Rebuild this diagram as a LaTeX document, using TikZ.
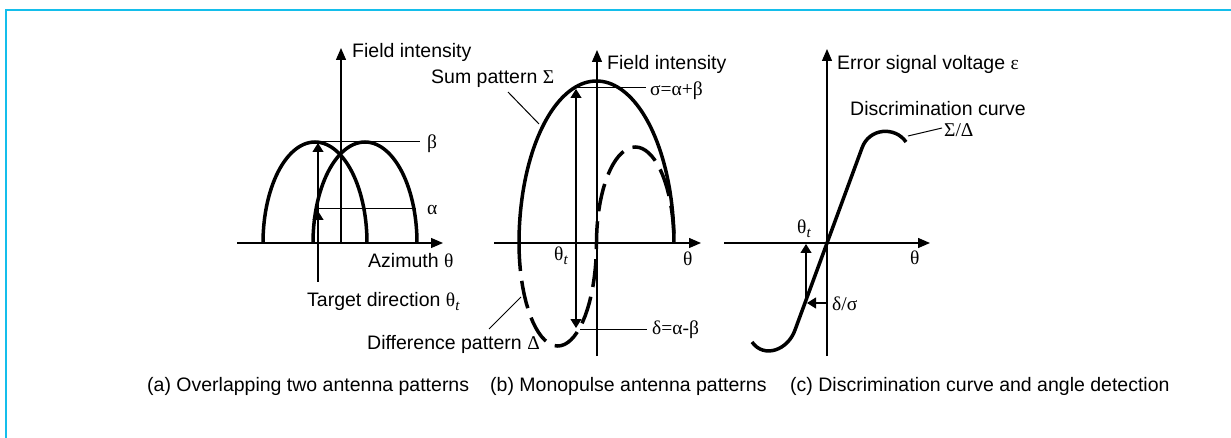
\documentclass[tikz,border=0pt]{standalone}
\usepackage{fontspec}
\setmainfont{Liberation Sans}
\newfontfamily\gk{Liberation Serif}
\usetikzlibrary{arrows.meta}
\definecolor{framecyan}{RGB}{20,190,235}
\newcommand\tsub[1]{\raisebox{-0.35ex}{\fontsize{15}{18}\selectfont\gk\itshape #1}}
\begin{document}
\begin{tikzpicture}[x=1pt,y=-1pt,
 lbl/.style={inner sep=0pt, anchor=west, font=\fontsize{19.5}{23}\selectfont},
 axisline/.style={line width=1.3pt, -{Triangle[length=12pt,width=10pt]}},
 thickcurve/.style={line width=3.5pt},
 dcurve/.style={line width=3.5pt, dash pattern=on 28pt off 10pt},
 leader/.style={line width=1pt},
 marrow/.style={line width=1.2pt, -{Triangle[length=9pt,width=11pt]}},
 cyanframe/.style={draw=framecyan, line width=1.6pt}]
\useasboundingbox (0,0) rectangle (1231,438);
\draw[cyanframe] (6,438) -- (6,10) -- (1231,10);

% ---------- panel (a)
\coordinate (aO) at (341,243);
\coordinate (aXl) at (237,243);
\coordinate (aXr) at (443,243);
\coordinate (aYt) at (341,48);
\draw[axisline] (aXl) -- (aXr);
\draw[axisline] (aO) -- (aYt);
\draw[thickcurve] plot[domain=180:0, samples=61] ({315+52*cos(\x)},{243-101*sin(\x)});
\draw[thickcurve] plot[domain=180:0, samples=61] ({365+52*cos(\x)},{243-101*sin(\x)});
\coordinate (aB1) at (316,142);
\coordinate (aB2) at (420,142);
\coordinate (aA1) at (318,209);
\coordinate (aA2) at (416,209);
\draw[leader] (aB1) -- (aB2);
\draw[leader] (aA1) -- (aA2);
\coordinate (aT) at (318,282);
\coordinate (aTb) at (318,143);
\coordinate (aTa) at (318,211);
\draw[marrow] (aT) -- (aTb);
\draw[marrow] (aT) -- (aTa);
\node[lbl] (aField) at (352,52.5) {Field intensity};
\node[lbl] (aBeta) at (427,143.5) {\gk β};
\node[lbl] (aAlpha) at (427,210) {\gk α};
\node[lbl] (aAz) at (368,260.5) {Azimuth {\gk θ}};
\node[lbl] (aTarget) at (307,301.5) {Target direction {\gk θ}\tsub{t}};
\node[lbl] (aCap) at (147,386.5) {(a) Overlapping two antenna patterns};

% ---------- panel (b)
\coordinate (bO) at (597,243);
\coordinate (bXl) at (494,243);
\coordinate (bXr) at (701,243);
\coordinate (bYt) at (597,50);
\coordinate (bYb) at (597,356);
\draw[axisline] (bXl) -- (bXr);
\draw[axisline] (bYb) -- (bYt);
\draw[thickcurve] plot[domain=180:0, samples=81] ({596.5+77.5*cos(\x)},{243-162*sin(\x)});
\draw[dcurve] plot[domain=0:360, samples=73]
  ({(\x<180) ? (557.75-38.75*cos(\x)) : (635.25+38.75*cos(\x))},
   {(\x<180) ? (243+103*sin(\x)) : (243+96*sin(\x))});
\coordinate (bS1) at (576,88);
\coordinate (bS2) at (646,88);
\coordinate (bD1) at (580,329);
\coordinate (bD2) at (647,329);
\draw[leader] (bS1) -- (bS2);
\draw[leader] (bD1) -- (bD2);
\coordinate (bT) at (576,243);
\coordinate (bTu) at (576,89);
\coordinate (bTd) at (576,328);
\draw[marrow] (bT) -- (bTu);
\draw[marrow] (bT) -- (bTd);
\node[lbl] (bField) at (607,64.5) {Field intensity};
\node[lbl] (bSigma) at (650,91) {\gk σ=α+β};
\node[lbl] (bDelta) at (652,330) {\gk δ=α-β};
\node[lbl] (bThetat) at (554,256) {{\gk θ}\tsub{t}};
\node[lbl] (bTheta) at (683,259) {\gk θ};
\node[lbl] (bSum) at (431,79) {Sum pattern {\gk Σ}};
\node[lbl] (bDiff) at (367,344.5) {Difference pattern {\gk Δ}};
\coordinate (bL1a) at (508,92);
\coordinate (bL1b) at (539,124);
\coordinate (bL2a) at (489,329);
\coordinate (bL2b) at (521,297);
\draw[leader] (bL1a) -- (bL1b);
\draw[leader] (bL2a) -- (bL2b);
\node[lbl] (bCap) at (490,386.5) {(b) Monopulse antenna patterns};

% ---------- panel (c)
\coordinate (cO) at (827,243);
\coordinate (cXl) at (724,243);
\coordinate (cXr) at (930,243);
\coordinate (cYt) at (827,49);
\coordinate (cYb) at (827,356);
\draw[axisline] (cXl) -- (cXr);
\draw[axisline] (cYb) -- (cYt);
\coordinate (cE1) at (752,342);
\coordinate (cK1) at (795,330);
\coordinate (cK2) at (862,148);
\coordinate (cE2) at (906,142);
\draw[thickcurve] (cE1) .. controls (764,359) and (788,350) .. (cK1) -- (cK2)
   .. controls (869,128) and (895,126) .. (cE2);
\coordinate (cD) at (827,303);
\coordinate (cP) at (807,303);
\coordinate (cPs) at (806,303);
\coordinate (cPt) at (806,244);
\draw[marrow] (cD) -- (cP);
\draw[marrow] (cPs) -- (cPt);
\node[lbl] (cErr) at (837,64.5) {Error signal voltage {\gk ε}};
\node[lbl] (cDisc) at (850,108.5) {Discrimination curve};
\node[lbl] (cSD) at (944,130) {\gk Σ/Δ};
\coordinate (cL1) at (908,136);
\coordinate (cL2) at (942,128);
\draw[leader] (cL1) -- (cL2);
\node[lbl] (cThetat) at (797,229) {{\gk θ}\tsub{t}};
\node[lbl] (cTheta) at (910,257.5) {\gk θ};
\node[lbl] (cDS) at (832,304) {\gk δ/σ};
\node[lbl] (cCap) at (790,386.5) {(c) Discrimination curve and angle detection};
\end{tikzpicture}
\end{document}
